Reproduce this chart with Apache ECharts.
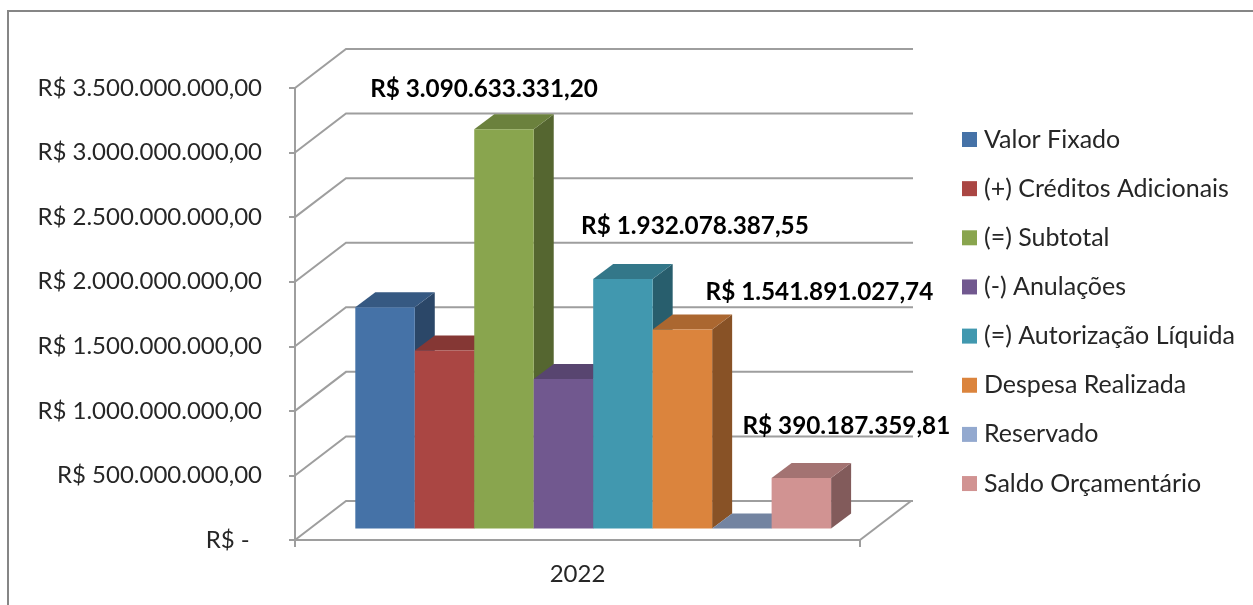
<!DOCTYPE html>
<html>
<head>
<meta charset="utf-8">
<style>
  html, body { margin: 0; padding: 0; background: #fff; }
  #main { width: 1253px; height: 605px; }
</style>
<script src="https://cdn.jsdelivr.net/npm/echarts@6/dist/echarts.min.js"></script>
</head>
<body>
<div id="main"></div>
<script>
// данные графика
const categories = ['2022'];
const seriesNames = ['Valor Fixado', '(+) Créditos Adicionais', '(=) Subtotal', '(-) Anulações',
  '(=) Autorização Líquida', 'Despesa Realizada', 'Reservado', 'Saldo Orçamentário'];
const seriesValues = [1713000000, 1377633331.20, 3090633331.20, 1158554943.65,
  1932078387.55, 1541891027.74, 0, 390187359.81];
const axisTicks = [0, 500000000, 1000000000, 1500000000, 2000000000, 2500000000, 3000000000, 3500000000];

const colors = ['#4572A7', '#AA4643', '#89A54E', '#71588F', '#4198AF', '#DB843D', '#93A9CF', '#D19392'];
// подписи стоят не над столбиками, смещения от верха передней грани: [dx, dy]
const labelOffsets = {2: [-20, -40.5], 4: [72, -52.5], 5: [137, -37.5], 7: [45, -51.5]};

const FONT = 'Lato, sans-serif';
const GRID_COLOR = '#9e9e9e';
const WALL_DX = 51, WALL_DY = -39;   // глубина стенок
const BAR_DX = 15.7, BAR_DY = -11.5; // передняя грань столбика относительно оси
const DEPTH_DX = 20, DEPTH_DY = -15; // глубина столбика
const RIGHT_END = 913;

function shade(hex, k) {
  const n = parseInt(hex.slice(1), 16);
  const c = [n >> 16, (n >> 8) & 255, n & 255].map(v => Math.round(v * k));
  return 'rgb(' + c.join(',') + ')';
}

function money(v, decimals) {
  const parts = v.toFixed(decimals).split('.');
  const int = parts[0].replace(/\B(?=(\d{3})+$)/g, '.');
  return 'R$ ' + int + (parts[1] ? ',' + parts[1] : '');
}

// линии сетки: боковая стенка и задняя стенка
function renderGridLine(params, api) {
  const p = api.coord([0, api.value(0)]);
  const side = params.coordSys;
  const children = [{
    type: 'polyline',
    shape: {points: [[side.x, p[1]], [side.x + WALL_DX, p[1] + WALL_DY], [RIGHT_END, p[1] + WALL_DY]]},
    style: {stroke: GRID_COLOR, lineWidth: 2, fill: null}
  }];
  if (api.value(0) === 0) {
    const xr = side.x + side.width;
    children.push({
      type: 'line',
      shape: {x1: xr, y1: p[1], x2: xr + WALL_DX, y2: p[1] + WALL_DY},
      style: {stroke: GRID_COLOR, lineWidth: 2}
    });
  }
  return {type: 'group', children: children};
}

// столбик из трёх граней
function renderBar(index) {
  return function (params, api) {
    const band = api.size([1, 0])[0];
    const w = band / 9.5;
    const top = api.coord([0, api.value(1)]);
    const base = api.coord([0, 0]);
    const x = top[0] + BAR_DX + (index - seriesNames.length / 2) * w;
    const y1 = top[1] + BAR_DY;
    const y0 = base[1] + BAR_DY;
    const color = colors[index];
    const children = [
      {type: 'polygon',
       shape: {points: [[x + w, y1], [x + w + DEPTH_DX, y1 + DEPTH_DY], [x + w + DEPTH_DX, y0 + DEPTH_DY], [x + w, y0]]},
       style: {fill: shade(color, 0.62)}},
      {type: 'polygon',
       shape: {points: [[x, y1], [x + DEPTH_DX, y1 + DEPTH_DY], [x + w + DEPTH_DX, y1 + DEPTH_DY], [x + w, y1]]},
       style: {fill: shade(color, 0.78)}},
      {type: 'rect', shape: {x: x, y: y1, width: w, height: y0 - y1}, style: {fill: color}}
    ];
    return {type: 'group', children: children};
  };
}

function renderLabel(index) {
  return function (params, api) {
    const band = api.size([1, 0])[0];
    const w = band / 9.5;
    const top = api.coord([0, api.value(1)]);
    const off = labelOffsets[index];
    return {
      type: 'text',
      z2: 100,
      style: {
        text: money(api.value(1), 2),
        x: top[0] + BAR_DX + (index - seriesNames.length / 2 + 0.5) * w + off[0],
        y: top[1] + BAR_DY + off[1],
        fill: '#000',
        font: 'bold 24.3px ' + FONT,
        textAlign: 'center',
        textVerticalAlign: 'middle'
      }
    };
  };
}

const series = [{
  type: 'custom',
  silent: true,
  coordinateSystem: 'cartesian2d',
  renderItem: renderGridLine,
  encode: {y: 0},
  data: axisTicks.map(v => [v]),
  z: 1
}];

seriesNames.forEach((name, i) => {
  series.push({
    name: name,
    type: 'custom',
    coordinateSystem: 'cartesian2d',
    renderItem: renderBar(i),
    encode: {x: 0, y: 1},
    itemStyle: {color: colors[i]},
    data: [[0, seriesValues[i]]],
    z: 2
  });
});

Object.keys(labelOffsets).forEach(k => {
  const i = +k;
  series.push({
    type: 'custom',
    silent: true,
    coordinateSystem: 'cartesian2d',
    renderItem: renderLabel(i),
    encode: {x: 0, y: 1},
    data: [[0, seriesValues[i]]],
    z: 5
  });
});

const chart = echarts.init(document.getElementById('main'), null, {renderer: 'canvas'});
chart.setOption({
  animation: false,
  backgroundColor: '#fff',
  textStyle: {fontFamily: FONT},
  graphic: [{
    type: 'polyline',
    silent: true,
    shape: {points: [[8, 606], [8, 11], [1254, 11]]},
    style: {stroke: '#868686', lineWidth: 2, fill: null}
  }],
  grid: {left: 295, top: 88, width: 565, height: 452},
  legend: {
    orient: 'vertical',
    left: 957,
    top: 122,
    itemWidth: 15,
    itemHeight: 15,
    itemGap: 24.15,
    icon: 'rect',
    data: seriesNames,
    textStyle: {fontFamily: FONT, fontSize: 25, color: '#262626', padding: [0, 0, 0, 2]}
  },
  xAxis: {
    type: 'category',
    data: categories,
    axisLine: {lineStyle: {color: GRID_COLOR, width: 2}},
    axisTick: {show: true, length: 7, lineStyle: {color: GRID_COLOR, width: 2}},
    axisLabel: {fontFamily: FONT, fontSize: 24, color: '#262626', margin: 22}
  },
  yAxis: {
    type: 'value',
    min: 0,
    max: 3500000000,
    interval: 500000000,
    splitLine: {show: false},
    axisLine: {show: true, lineStyle: {color: GRID_COLOR, width: 2}},
    axisTick: {show: true, length: 6, lineStyle: {color: GRID_COLOR, width: 2}},
    axisLabel: {
      fontFamily: FONT,
      fontSize: 24,
      color: '#262626',
      margin: 33,
      padding: [3, 0, 0, 0],
      formatter: v => v === 0 ? 'R$ -\u00a0\u00a0' : money(v, 2)
    }
  },
  series: series
});
</script>
</body>
</html>
